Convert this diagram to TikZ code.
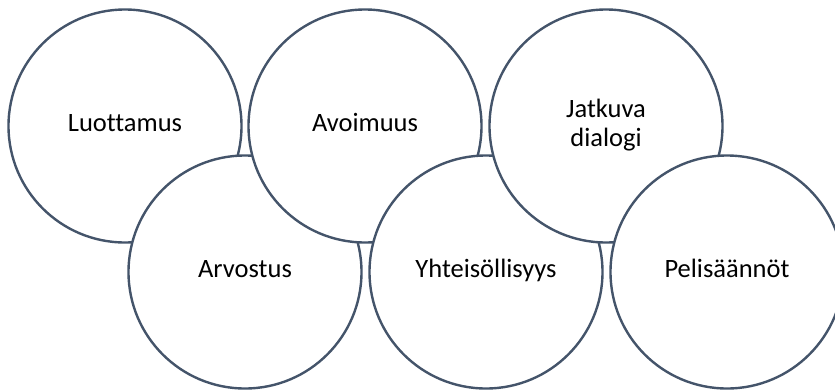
\documentclass[tikz,border=0pt]{standalone}
\usepackage{fontspec}
\setmainfont{Carlito}[Ligatures=NoCommon]
\usepackage{tikz}
\usetikzlibrary{positioning}
\definecolor{ringline}{HTML}{44546A}

\begin{document}
\begin{tikzpicture}[x=1pt,y=-1pt,
		ring/.style={circle, draw=ringline, line width=2.4pt, fill=white,
			minimum size=233pt, inner sep=0pt, align=center,
			font=\fontsize{26.5}{29.5}\selectfont}]
		
		% Frame
		\clip (0,0) rectangle (835,389);
		
		% Circles, drawn in zigzag order
		\node[ring] (luottamus) at (125,126) {\strut Luottamus};
		\node[ring] (arvostus) at (245,272) {\strut Arvostus};
		\node[ring] (avoimuus) at (365,126) {\strut Avoimuus};
		\node[ring] (yhteis) at (486,272) {\strut Yhteisöllisyys};
		\node[ring] (dialogi) at (606,126) {\strut Jatkuva\\\strut dialogi};
		\node[ring] (pelisaannot) at (727,272) {\strut Pelisäännöt};
		
	\end{tikzpicture}
\end{document}
